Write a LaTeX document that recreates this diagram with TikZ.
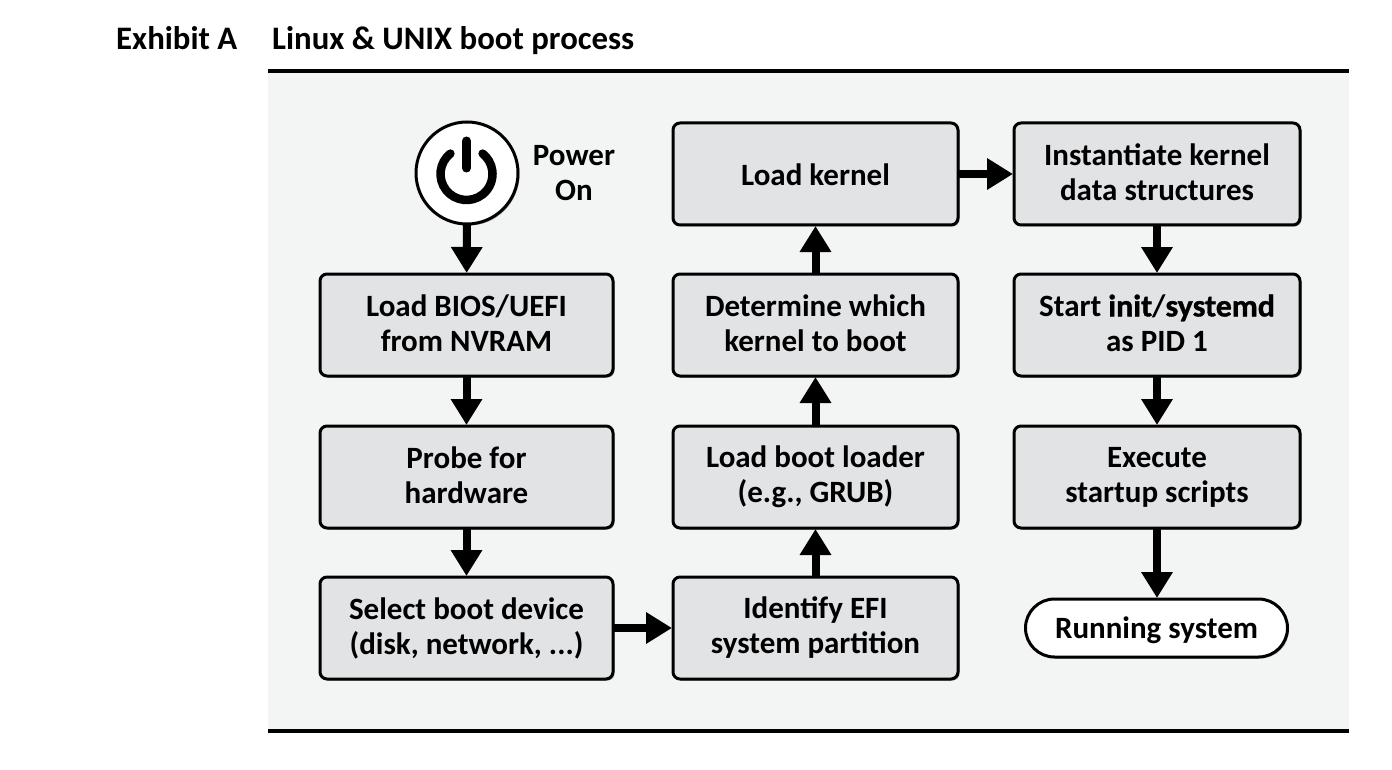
\documentclass[tikz,border=0pt]{standalone}
\usepackage{fontspec}
\setmainfont{Carlito}[BoldFont={Carlito Bold}]
\newfontfamily\heavyfont{Carlito Bold}[FakeBold=1.2,FakeStretch=1.03]
\usetikzlibrary{arrows.meta,shadows,shapes.misc}
\definecolor{panelbg}{HTML}{F3F5F4}
\definecolor{boxfill}{HTML}{E2E3E5}
\newcommand{\topstrut}{\rule{0pt}{27pt}}
\newcommand{\botstrut}{\rule[-4pt]{0pt}{4pt}}
\tikzset{
  softshadow/.style={drop shadow={shadow xshift=1.5pt,shadow yshift=-1.5pt,fill=black,opacity=.35}},
  stepbox/.style={draw=black,line width=3pt,fill=boxfill,rounded corners=7pt,minimum height=102pt,
    inner sep=0pt,align=center,softshadow,font=\labelfont,execute at begin node=\topstrut,execute at end node=\botstrut},
  col1/.style={minimum width=293pt},
  col2/.style={minimum width=285pt},
  col3/.style={minimum width=286pt},
  flow/.style={line width=8pt,-{Triangle[length=26pt,width=30pt]},shorten >=-0.5pt,shorten <=-1pt},
  rule/.style={line width=3.6pt},
  title/.style={anchor=base west,inner sep=0pt,font=\titlefont},
}
\newcommand{\labelfont}{\fontsize{31}{35}\selectfont\bfseries}
\newcommand{\titlefont}{\fontsize{32.8}{36}\selectfont\bfseries}
\begin{document}
\begin{tikzpicture}[x=1pt,y=-1pt]
\useasboundingbox (0,0) rectangle (1392,770);
\fill[panelbg] (268,71) rectangle (1349,731);
\draw[rule] (268,71) -- (1349,71);
\draw[rule] (268,731) -- (1349,731);
\node[title] (exh) at (116,50) {Exhibit A};
\node[title] (ttl) at (272,50) {Linux \& UNIX boot process};

\node[circle,draw=black,line width=3pt,fill=white,minimum size=102pt,inner sep=0pt,softshadow] (pwr) at (467,173) {};
\node[inner sep=0pt,align=center,font=\labelfont] (pwrl) at (574,173) {Power\\On};
\draw[line width=8.5pt,line cap=round] (450.4,153.6) arc[start angle=-128.3,end angle=-411.7,radius=26];
\draw[line width=9pt,line cap=round] (466.5,141) -- (466.5,168);

\node[stepbox,col1] (bios) at (466.5,325) {Load BIOS/UEFI\\from NVRAM};
\node[stepbox,col1] (probe) at (466.5,477) {Probe for\\hardware};
\node[stepbox,col1] (sel) at (466.5,628) {Select boot device\\(disk, network, ...)};
\node[stepbox,col2] (efi) at (815.5,628) {Identify EFI\\system partition};
\node[stepbox,col2] (grub) at (815.5,477) {Load boot loader\\(e.g., GRUB)};
\node[stepbox,col2] (which) at (815.5,325) {Determine which\\kernel to boot};
\node[stepbox,col2] (kern) at (815.5,174) {Load kernel};
\node[stepbox,col3] (data) at (1157,174) {Instantiate kernel\\data structures};
\node[stepbox,col3] (init) at (1157,325) {Start {\heavyfont init}/{\heavyfont systemd}\\as PID 1};
\node[stepbox,col3] (exec) at (1157,477) {Execute\\startup scripts};
\node[draw=black,line width=3pt,fill=white,rounded rectangle,minimum width=262pt,minimum height=58pt,inner sep=0pt,softshadow,font=\labelfont,align=center,execute at begin node=\topstrut,execute at end node=\botstrut] (run) at (1156.5,628) {Running system};

\draw[flow] (pwr) -- (bios);
\draw[flow] (bios) -- (probe);
\draw[flow] (probe) -- (sel);
\draw[flow] (sel) -- (efi);
\draw[flow] (efi) -- (grub);
\draw[flow] (grub) -- (which);
\draw[flow] (which) -- (kern);
\draw[flow] (kern) -- (data);
\draw[flow] (data) -- (init);
\draw[flow] (init) -- (exec);
\draw[flow] (exec.south) -- (exec.south |- run.north);
\end{tikzpicture}
\end{document}
